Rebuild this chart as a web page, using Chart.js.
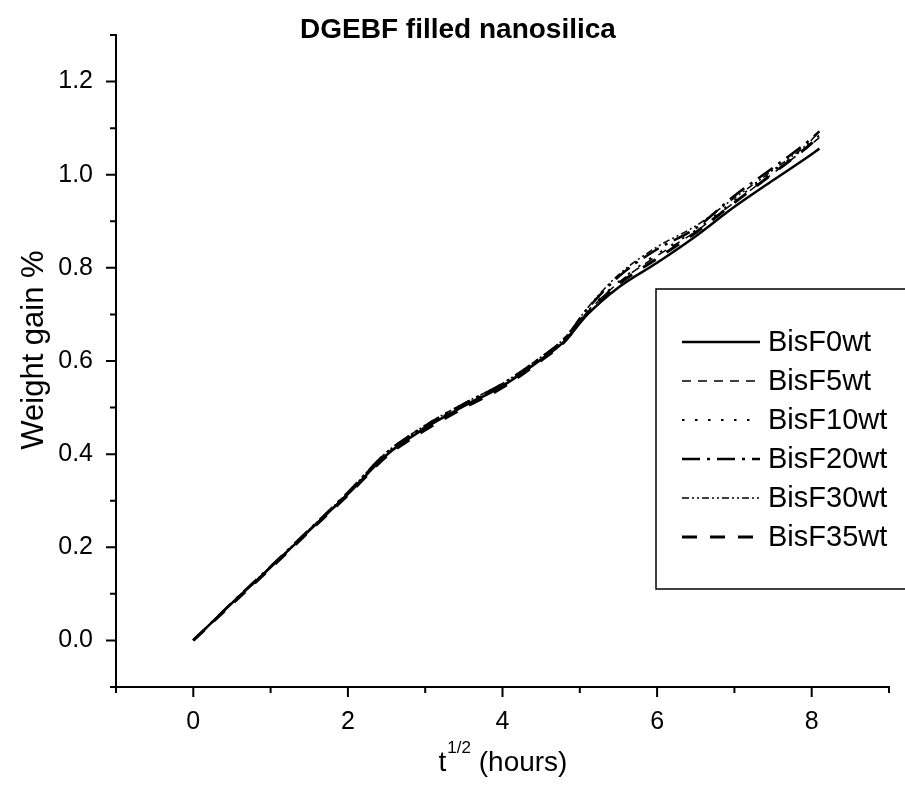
<!DOCTYPE html>
<html lang="en">
<head>
  <meta charset="UTF-8">
  <title>DGEBF filled nanosilica</title>
  <script src="https://cdn.jsdelivr.net/npm/chart.js"></script>
  <style>
    body {
      margin: 0;
      background: #ffffff;
    }
    canvas {
      display: block;
    }
  </style>
</head>
<body>
  <canvas id="gainChart" width="905" height="795"></canvas>

  <script>
    // t^1/2 (hours)
    const tRoot = [0, 0.5, 1, 1.5, 2, 2.5, 3, 3.5, 4, 4.5, 4.8, 5.1, 5.5, 6, 6.5, 7, 7.5, 8, 8.1];

    const bisF0  = [0, 0.080, 0.157, 0.236, 0.314, 0.398, 0.456, 0.503, 0.546, 0.603, 0.642, 0.700, 0.758, 0.811, 0.868, 0.931, 0.988, 1.044, 1.056];
    const bisF5  = [0, 0.080, 0.158, 0.237, 0.316, 0.400, 0.458, 0.505, 0.548, 0.605, 0.645, 0.705, 0.768, 0.826, 0.878, 0.941, 1.003, 1.066, 1.080];
    const bisF10 = [0, 0.080, 0.158, 0.237, 0.316, 0.401, 0.459, 0.506, 0.549, 0.606, 0.646, 0.707, 0.770, 0.830, 0.881, 0.945, 1.007, 1.070, 1.085];
    const bisF20 = [0, 0.081, 0.159, 0.238, 0.318, 0.403, 0.461, 0.508, 0.551, 0.608, 0.648, 0.712, 0.781, 0.840, 0.885, 0.955, 1.015, 1.078, 1.093];
    const bisF30 = [0, 0.081, 0.159, 0.238, 0.318, 0.404, 0.462, 0.509, 0.552, 0.609, 0.649, 0.714, 0.785, 0.845, 0.890, 0.950, 1.010, 1.075, 1.095];
    const bisF35 = [0, 0.078, 0.155, 0.234, 0.312, 0.395, 0.452, 0.499, 0.543, 0.601, 0.641, 0.703, 0.765, 0.820, 0.876, 0.940, 1.003, 1.068, 1.085];

    const seriesNames = ['BisF0wt', 'BisF5wt', 'BisF10wt', 'BisF20wt', 'BisF30wt', 'BisF35wt'];
    const seriesValues = [bisF0, bisF5, bisF10, bisF20, bisF30, bisF35];

    const xMajorTicks = [0, 2, 4, 6, 8];
    const xMinorTicks = [-1, 1, 3, 5, 7, 9];
    const yMajorTicks = [0, 0.2, 0.4, 0.6, 0.8, 1.0, 1.2];
    const yMinorTicks = [-0.1, 0.1, 0.3, 0.5, 0.7, 0.9, 1.1, 1.3];

    const FONT = "'Liberation Sans', Arial, sans-serif";

    const lineStyles = [
      { width: 2.5, dash: [] },
      { width: 1.5, dash: [9, 7] },
      { width: 1.8, dash: [2.5, 10.5] },
      { width: 2.5, dash: [18, 7, 3, 7] },
      { width: 1.5, dash: [7, 3, 2, 3, 2, 3] },
      { width: 3, dash: [15, 13] }
    ];

    const datasets = seriesNames.map((name, i) => ({
      label: name,
      data: tRoot.map((t, k) => ({ x: t, y: seriesValues[i][k] })),
      borderColor: '#000',
      borderWidth: lineStyles[i].width,
      borderDash: lineStyles[i].dash,
      pointRadius: 0,
      fill: false,
      cubicInterpolationMode: 'monotone'
    }));

    // ticks, titles and the boxed legend
    const decorations = {
      id: 'decorations',
      afterDraw(chart) {
        const ctx = chart.ctx;
        const xs = chart.scales.x;
        const ys = chart.scales.y;
        const area = chart.chartArea;

        ctx.save();
        ctx.strokeStyle = '#000';
        ctx.lineWidth = 2;
        ctx.setLineDash([]);
        ctx.beginPath();
        xMajorTicks.forEach(v => { const p = xs.getPixelForValue(v); ctx.moveTo(p, area.bottom); ctx.lineTo(p, area.bottom + 10); });
        xMinorTicks.forEach(v => { const p = xs.getPixelForValue(v); ctx.moveTo(p, area.bottom); ctx.lineTo(p, area.bottom + 6); });
        yMajorTicks.forEach(v => { const p = ys.getPixelForValue(v); ctx.moveTo(area.left, p); ctx.lineTo(area.left - 10, p); });
        yMinorTicks.forEach(v => { const p = ys.getPixelForValue(v); ctx.moveTo(area.left, p); ctx.lineTo(area.left - 6, p); });
        ctx.stroke();

        // title
        ctx.fillStyle = '#000';
        ctx.font = 'bold 28px ' + FONT;
        ctx.textAlign = 'center';
        ctx.textBaseline = 'alphabetic';
        ctx.fillText('DGEBF filled nanosilica', 458, 38);

        // y title
        ctx.save();
        ctx.translate(43, 350);
        ctx.rotate(-Math.PI / 2);
        ctx.font = '31px ' + FONT;
        ctx.fillText('Weight gain %', 0, 0);
        ctx.restore();

        // x title with superscript
        ctx.textAlign = 'left';
        ctx.font = '28px ' + FONT;
        const wT = ctx.measureText('t').width;
        const wRest = ctx.measureText(' (hours)').width;
        ctx.font = '17px ' + FONT;
        const wSup = ctx.measureText('1/2').width;
        const cx = (area.left + area.right) / 2;
        let x0 = cx - (wT + wSup + wRest) / 2;
        ctx.font = '28px ' + FONT;
        ctx.fillText('t', x0, 771);
        ctx.font = '17px ' + FONT;
        ctx.fillText('1/2', x0 + wT + 1, 753);
        ctx.font = '28px ' + FONT;
        ctx.fillText(' (hours)', x0 + wT + wSup + 1, 771);

        // legend
        ctx.lineWidth = 1.5;
        ctx.strokeRect(656, 289, 300, 300);
        ctx.textBaseline = 'middle';
        ctx.font = '29px ' + FONT;
        chart.data.datasets.forEach((ds, i) => {
          const y = 342 + i * 39;
          ctx.lineWidth = ds.borderWidth;
          ctx.setLineDash(ds.borderDash);
          ctx.beginPath();
          ctx.moveTo(682, y);
          ctx.lineTo(760, y);
          ctx.stroke();
          ctx.setLineDash([]);
          ctx.fillText(ds.label, 768, y + 1);
        });
        ctx.restore();
      }
    };

    new Chart(document.getElementById('gainChart'), {
      type: 'line',
      data: { datasets: datasets },
      options: {
        responsive: false,
        devicePixelRatio: 1,
        animation: false,
        layout: { padding: { top: 35, right: 16, left: 0, bottom: 0 } },
        plugins: {
          legend: { display: false },
          title: { display: false },
          tooltip: { enabled: false }
        },
        scales: {
          x: {
            type: 'linear',
            min: -1,
            max: 9,
            afterFit: s => { s.height = 108; },
            grid: { display: false },
            border: { display: true, color: '#000', width: 2 },
            ticks: {
              stepSize: 1,
              padding: 12,
              color: '#000',
              font: { family: FONT, size: 25 },
              maxRotation: 0,
              autoSkip: false,
              callback: v => (v % 2 === 0 ? String(v) : '')
            }
          },
          y: {
            min: -0.1,
            max: 1.3,
            afterFit: s => { s.width = 116; },
            grid: { display: false },
            border: { display: true, color: '#000', width: 2 },
            ticks: {
              stepSize: 0.1,
              padding: 15,
              color: '#000',
              font: { family: FONT, size: 25 },
              autoSkip: false,
              callback: v => (Math.round(v * 10) % 2 === 0 ? v.toFixed(1) : '')
            }
          }
        }
      },
      plugins: [decorations]
    });
  </script>
</body>
</html>
